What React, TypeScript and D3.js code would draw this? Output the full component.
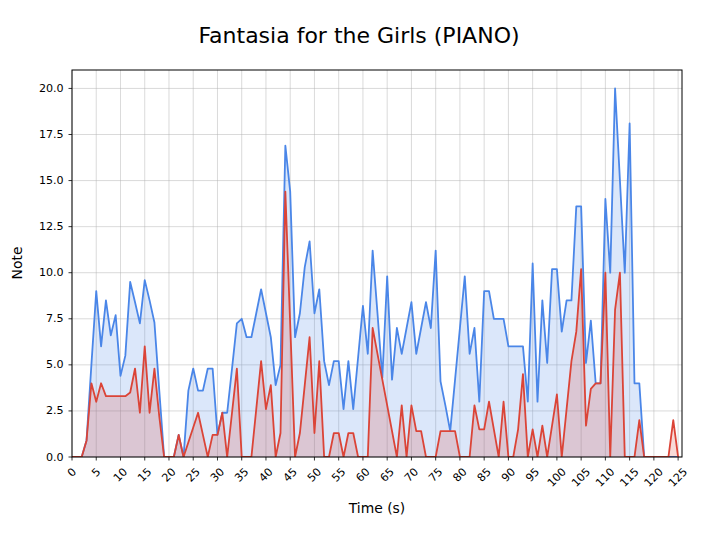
import React from "react";
import * as d3 from "d3";

const seconds: number[] = d3.range(0, 126);

const upperNotes: number[] = [
  0, 0, 0, 0.9, 5.0, 9.0, 6.0, 8.5, 6.6, 7.7,
  4.4, 5.5, 9.5, 8.4, 7.25, 9.6, 8.5, 7.3, 3.6, 0,
  0, 0, 1.2, 0, 3.6, 4.8, 3.6, 3.6, 4.8, 4.8,
  1.2, 2.4, 2.4, 4.8, 7.25, 7.5, 6.5, 6.5, 7.8, 9.1,
  7.8, 6.5, 3.9, 5.0, 16.9, 14.4, 6.5, 7.8, 10.3, 11.7,
  7.8, 9.1, 5.2, 3.9, 5.2, 5.2, 2.6, 5.2, 2.6, 5.4,
  8.2, 5.6, 11.2, 7.8, 4.3, 9.8, 4.2, 7.0, 5.6, 7.0,
  8.4, 5.6, 7.0, 8.4, 7.0, 11.2, 4.1, 2.8, 1.4, 4.2,
  7.0, 9.8, 5.6, 7.0, 3.0, 9.0, 9.0, 7.5, 7.5, 7.5,
  6.0, 6.0, 6.0, 6.0, 3.0, 10.5, 3.0, 8.5, 5.1, 10.2,
  10.2, 6.8, 8.5, 8.5, 13.6, 13.6, 5.1, 7.4, 4.0, 4.0,
  14.0, 10.0, 20.0, 15.0, 10.0, 18.1, 4.0, 4.0, 0, 0,
  0, 0, 0, 0, 0, 0,
];

const lowerNotes: number[] = [
  0, 0, 0, 0.9, 4.0, 3.0, 4.0, 3.3, 3.3, 3.3,
  3.3, 3.3, 3.5, 4.8, 2.4, 6.0, 2.4, 4.8, 2.2, 0,
  0, 0, 1.2, 0, 0.8, 1.6, 2.4, 1.2, 0, 1.2,
  1.2, 2.4, 0, 2.4, 4.8, 0, 0, 0, 2.6, 5.2,
  2.6, 3.9, 0, 1.3, 14.4, 7.2, 0, 1.3, 3.9, 6.5,
  1.3, 5.2, 0, 0, 1.3, 1.3, 0, 1.3, 1.3, 0,
  0, 0, 7.0, 5.6, 4.2, 2.8, 1.4, 0, 2.8, 0,
  2.8, 1.4, 1.4, 0, 0, 0, 1.4, 1.4, 1.4, 1.4,
  0, 0, 0, 2.8, 1.5, 1.5, 3.0, 1.5, 0, 3.0,
  0, 0, 1.5, 4.5, 0, 1.5, 0, 1.7, 0, 1.7,
  3.4, 0, 2.6, 5.2, 6.8, 10.2, 1.7, 3.7, 4.0, 4.0,
  10.0, 0, 8.0, 10.0, 0, 0, 0, 2.0, 0, 0,
  0, 0, 0, 0, 2.0, 0,
];

const xTicks: number[] = d3.range(0, 126, 5);
const yTicks: number[] = [0, 2.5, 5, 7.5, 10, 12.5, 15, 17.5, 20];

const TITLE = "Fantasia for the Girls (PIANO)";
const X_LABEL = "Time (s)";
const Y_LABEL = "Note";

const W = 718;
const H = 538;
const M = { left: 72, right: 682, top: 70, bottom: 457 };
const FONT = "DejaVu Sans, sans-serif";

const BLUE = "#4a86e8";
const RED = "#db4437";

export default function App() {
  const x = d3.scaleLinear().domain([0, 125.8]).range([M.left, M.right]);
  const y = d3.scaleLinear().domain([0, 21]).range([M.bottom, M.top]);

  const upper = seconds.map((t, i) => [t, upperNotes[i]] as [number, number]);
  const lower = seconds.map((t, i) => [t, lowerNotes[i]] as [number, number]);

  const area = d3
    .area<[number, number]>()
    .x((d) => x(d[0]))
    .y0(y(0))
    .y1((d) => y(d[1]));
  const line = d3
    .line<[number, number]>()
    .x((d) => x(d[0]))
    .y((d) => y(d[1]));

  const tickFs = 11.1;
  const charW = 0.636 * tickFs;
  const textH = 13;

  return (
    <svg
      width={W}
      height={H}
      style={{ position: "absolute", left: 0, top: 0, background: "#fff" }}
      fontFamily={FONT}
    >
      <rect x={0} y={0} width={W} height={H} fill="#fff" />
      <text x={359} y={43} textAnchor="middle" fontSize={22} fill="#000">
        {TITLE}
      </text>
      <defs>
        <clipPath id="plotclip">
          <rect x={M.left} y={M.top} width={M.right - M.left} height={M.bottom - M.top} />
        </clipPath>
      </defs>
      {/* grid */}
      <g stroke="#b0b0b0" strokeOpacity={0.6} strokeWidth={0.8}>
        {xTicks.map((t) => (
          <line key={"gx" + t} x1={x(t)} x2={x(t)} y1={M.top} y2={M.bottom} />
        ))}
        {yTicks.map((v) => (
          <line key={"gy" + v} x1={M.left} x2={M.right} y1={y(v)} y2={y(v)} />
        ))}
      </g>
      <g clipPath="url(#plotclip)">
        <path d={area(upper) || ""} fill={BLUE} fillOpacity={0.2} />
        <path d={line(upper) || ""} fill="none" stroke={BLUE} strokeWidth={1.8} strokeLinejoin="round" />
        <path d={area(lower) || ""} fill={RED} fillOpacity={0.2} />
        <path d={line(lower) || ""} fill="none" stroke={RED} strokeWidth={1.8} strokeLinejoin="round" />
      </g>
      {/* spines */}
      <rect
        x={M.left}
        y={M.top}
        width={M.right - M.left}
        height={M.bottom - M.top}
        fill="none"
        stroke="#000"
        strokeWidth={1}
      />
      {/* y ticks */}
      {yTicks.map((v) => (
        <g key={"yt" + v}>
          <line x1={M.left - 3.5} x2={M.left} y1={y(v)} y2={y(v)} stroke="#000" strokeWidth={0.8} />
          <text
            x={M.left - 8.4}
            y={y(v)}
            textAnchor="end"
            dominantBaseline="central"
            fontSize={tickFs}
            fill="#000"
          >
            {v.toFixed(1)}
          </text>
        </g>
      ))}
      {/* x ticks */}
      {xTicks.map((t) => {
        const label = String(t);
        const bb = (label.length * charW + textH) * 0.7071;
        const cy = M.bottom + 3.5 + 4.9 + bb / 2;
        return (
          <g key={"xt" + t}>
            <line x1={x(t)} x2={x(t)} y1={M.bottom} y2={M.bottom + 3.5} stroke="#000" strokeWidth={0.8} />
            <text
              transform={`translate(${x(t)},${cy}) rotate(-45)`}
              textAnchor="middle"
              dominantBaseline="central"
              fontSize={tickFs}
              fill="#000"
            >
              {label}
            </text>
          </g>
        );
      })}
      <text x={377} y={513} textAnchor="middle" fontSize={13.9} fill="#000">
        {X_LABEL}
      </text>
      <text
        transform={`translate(22,263) rotate(-90)`}
        textAnchor="middle"
        fontSize={13.9}
        fill="#000"
      >
        {Y_LABEL}
      </text>
    </svg>
  );
}
